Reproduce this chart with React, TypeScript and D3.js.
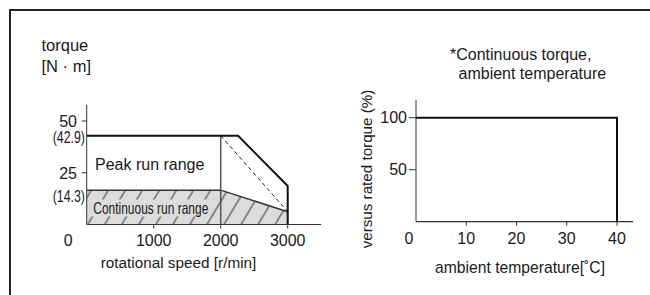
import React from "react";
import * as d3 from "d3";

// ---- Left chart data (speed–torque) ----
const speedTicks = [1000, 2000, 3000];
const torqueTicks = [25, 50];
const markValues = [42.9, 14.3];
const markLabels = ["(42.9)", "(14.3)"];
const peakSpeed = [0, 2260, 3000, 3000];
const peakTorque = [42.9, 42.9, 18.6, 0];
const contSpeed = [0, 2000, 3000, 3000, 0];
const contTorque = [16.6, 16.6, 6.2, 0, 0];
const dashSpeed = [2000, 3000];
const dashTorque = [42.9, 6.2];
const dividerSpeed = 2000;

// ---- Right chart data (derating) ----
const tempTicks = [10, 20, 30, 40];
const pctTicks = [50, 100];
const derateTemp = [0, 40, 40];
const deratePct = [100, 100, 0];

const FONT = "'Liberation Sans', Arial, Helvetica, sans-serif";
const INK = "#1a1a1a";

export default function App() {
  const xL = d3.scaleLinear().domain([0, 3500]).range([86.7, 321.2]);
  const yL = d3.scaleLinear().domain([0, 50]).range([224.5, 121]);
  const xR = d3.scaleLinear().domain([0, 40]).range([416, 617]);
  const yR = d3.scaleLinear().domain([0, 100]).range([221.7, 117.7]);

  const pathFrom = (xs: number[], ys: number[], sx: (v: number) => number, sy: (v: number) => number) =>
    d3.line<number>()
      .x((i) => sx(xs[i]))
      .y((i) => sy(ys[i]))(xs.map((_, i) => i)) as string;

  const contPath = pathFrom(contSpeed, contTorque, xL, yL) + "Z";
  const contTopPath = pathFrom(contSpeed.slice(0, 3), contTorque.slice(0, 3), xL, yL);
  const peakPath = pathFrom(peakSpeed, peakTorque, xL, yL);
  const dashPath = pathFrom(dashSpeed, dashTorque, xL, yL);
  const deratePath = pathFrom(derateTemp, deratePct, xR, yR);

  return (
    <svg
      width={650}
      height={295}
      style={{ position: "absolute", left: 0, top: 0, background: "#fff" }}
      fontFamily={FONT}
    >
      <defs>
        <pattern id="hatch" patternUnits="userSpaceOnUse" width={14.6} height={10} patternTransform="rotate(31)">
          <rect width={14.6} height={10} fill="#dcdcdc" />
          <line x1={1} y1={0} x2={1} y2={10} stroke="#333" strokeWidth={1} />
        </pattern>
      </defs>

      {/* frame */}
      <path d="M10,295 L10,10 L650,10" fill="none" stroke="#222" strokeWidth={2} />

      {/* ===== Left chart ===== */}
      <text x={41.5} y={51} fontSize={16.5} fill={INK}>torque</text>
      <text x={41.5} y={72} fontSize={16.5} fill={INK}>[N · m]</text>

      {/* continuous region */}
      <path d={contPath} fill="url(#hatch)" stroke="none" />
      <rect x={91} y={199.5} width={119} height={17} fill="#dcdcdc" />
      <text x={93.3} y={213.8} fontSize={16.5} fill={INK} textLength={115} lengthAdjust="spacingAndGlyphs">
        Continuous run range
      </text>
      <path d={contTopPath} fill="none" stroke="#333" strokeWidth={1.5} />

      {/* divider at 2000 */}
      <line x1={xL(dividerSpeed)} x2={xL(dividerSpeed)} y1={yL(peakTorque[0])} y2={yL(0)} stroke="#555" strokeWidth={1.5} />
      {/* dashed */}
      <path d={dashPath} fill="none" stroke="#222" strokeWidth={1} strokeDasharray="4,3" />
      {/* peak outline */}
      <path d={peakPath} fill="none" stroke="#111" strokeWidth={2} />

      <text x={95} y={169.5} fontSize={16} fill={INK}>Peak run range</text>

      {/* axes */}
      <line x1={xL(0)} x2={xL(0)} y1={105} y2={yL(0)} stroke="#333" strokeWidth={1} />
      <line x1={xL(0)} x2={xL(3500)} y1={yL(0)} y2={yL(0)} stroke="#333" strokeWidth={1.2} />
      {torqueTicks.map((t) => (
        <g key={t}>
          <line x1={xL(0) - 5} x2={xL(0)} y1={yL(t)} y2={yL(t)} stroke="#333" />
          <text x={77} y={yL(t)} dy="0.36em" textAnchor="end" fontSize={16} fill={INK}>{t}</text>
        </g>
      ))}
      {markValues.map((v, i) => (
        <text key={v} x={85} y={yL(v)} dy="0.45em" textAnchor="end" fontSize={16} fill={INK}
          textLength={32.3} lengthAdjust="spacingAndGlyphs">{markLabels[i]}</text>
      ))}
      {speedTicks.map((t) => (
        <g key={t}>
          <line x1={xL(t)} x2={xL(t)} y1={yL(0)} y2={yL(0) + 4} stroke="#333" />
          <text x={xL(t)} y={245.5} textAnchor="middle" fontSize={16} fill={INK}>{t}</text>
        </g>
      ))}
      <text x={xL(0) - 18.5} y={245.5} textAnchor="middle" fontSize={16} fill={INK}>0</text>
      <text x={178.5} y={268} textAnchor="middle" fontSize={15.3} fill={INK}>rotational speed [r/min]</text>

      {/* ===== Right chart ===== */}
      <text x={450} y={60} fontSize={16} fill={INK}>*Continuous torque,</text>
      <text x={458.5} y={79} fontSize={16} fill={INK}>ambient temperature</text>

      <line x1={xR(0)} x2={xR(0)} y1={100} y2={yR(0)} stroke="#333" strokeWidth={1} />
      <line x1={xR(0)} x2={xR(43.2)} y1={yR(0)} y2={yR(0)} stroke="#333" strokeWidth={1.2} />
      {pctTicks.map((t) => (
        <g key={t}>
          <line x1={xR(0) - 7} x2={xR(0)} y1={yR(t)} y2={yR(t)} stroke="#333" />
          <text x={407} y={yR(t)} dy="0.36em" textAnchor="end" fontSize={16} fill={INK}>{t}</text>
        </g>
      ))}
      {tempTicks.map((t) => (
        <g key={t}>
          <line x1={xR(t)} x2={xR(t)} y1={yR(0)} y2={yR(0) + 4} stroke="#333" />
          <text x={xR(t)} y={243.5} textAnchor="middle" fontSize={16} fill={INK}>{t}</text>
        </g>
      ))}
      <text x={xR(0) - 7} y={243.5} textAnchor="middle" fontSize={16} fill={INK}>0</text>
      <path d={deratePath} fill="none" stroke="#111" strokeWidth={2} />

      <text x={520} y={273} textAnchor="middle" fontSize={15.7} fill={INK}>ambient temperature[˚C]</text>
      <text transform="translate(366.5,169) rotate(-90)" textAnchor="middle" dy="0.35em" fontSize={15.2} fill={INK}>
        versus rated torque (%)
      </text>
    </svg>
  );
}
